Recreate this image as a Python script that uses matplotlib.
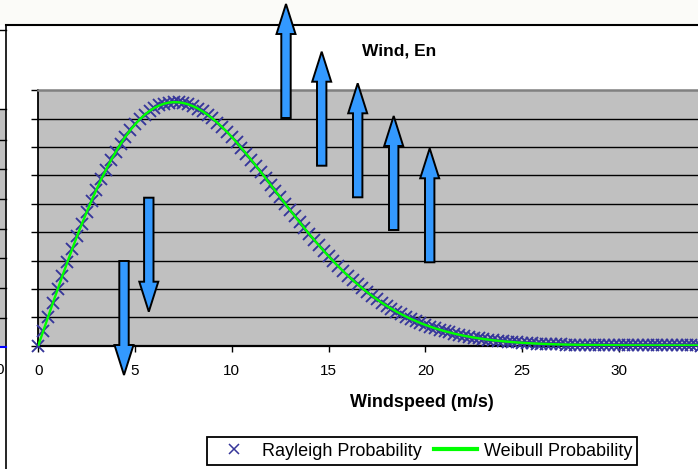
import numpy as np
import matplotlib
matplotlib.use("Agg")
import matplotlib.pyplot as plt
from matplotlib.patches import Polygon, Rectangle
from matplotlib.lines import Line2D

plt.rcParams['font.family'] = ['Liberation Sans', 'DejaVu Sans']

# ---------------- data ----------------
wind_step = 0.25
wind_max = 35.0
rayleigh_prob = [
    0.00000, 0.00501, 0.01000, 0.01496, 0.01986, 0.02468, 0.02941, 0.03404, 0.03854, 0.04289,
    0.04710, 0.05113, 0.05497, 0.05863, 0.06208, 0.06532, 0.06833, 0.07112, 0.07367, 0.07598,
    0.07804, 0.07987, 0.08145, 0.08278, 0.08387, 0.08472, 0.08534, 0.08573, 0.08589, 0.08584,
    0.08557, 0.08511, 0.08445, 0.08361, 0.08260, 0.08143, 0.08012, 0.07866, 0.07708, 0.07538,
    0.07358, 0.07168, 0.06971, 0.06766, 0.06557, 0.06342, 0.06123, 0.05902, 0.05679, 0.05456,
    0.05232, 0.05009, 0.04788, 0.04569, 0.04353, 0.04141, 0.03934, 0.03730, 0.03532, 0.03338,
    0.03151, 0.02970, 0.02794, 0.02625, 0.02463, 0.02307, 0.02158, 0.02016, 0.01880, 0.01751,
    0.01628, 0.01511, 0.01401, 0.01297, 0.01199, 0.01107, 0.01021, 0.00939, 0.00864, 0.00793,
    0.00726, 0.00665, 0.00608, 0.00555, 0.00506, 0.00460, 0.00418, 0.00380, 0.00344, 0.00312,
    0.00282, 0.00254, 0.00229, 0.00207, 0.00185, 0.00167, 0.00149, 0.00134, 0.00119, 0.00107,
    0.00095, 0.00085, 0.00075, 0.00067, 0.00059, 0.00053, 0.00047, 0.00041, 0.00036, 0.00032,
    0.00028, 0.00025, 0.00022, 0.00019, 0.00017, 0.00015, 0.00013, 0.00011, 0.00010, 0.00008,
    0.00007, 0.00006, 0.00005, 0.00005, 0.00004, 0.00003, 0.00003, 0.00003, 0.00002, 0.00002,
    0.00002, 0.00001, 0.00001, 0.00001, 0.00001, 0.00001, 0.00001, 0.00000, 0.00000, 0.00000,
    0.00000,
]
# the Weibull curve coincides with the Rayleigh markers in the picture
weibull_prob = list(rayleigh_prob)
windspeed = np.arange(0, wind_max + wind_step / 2, wind_step)
assert len(windspeed) == len(rayleigh_prob)

x_ticks = [0, 5, 10, 15, 20, 25, 30]
y_ticks = [0.00, 0.01, 0.02, 0.03, 0.04, 0.05, 0.06, 0.07, 0.08, 0.09]

title_text = "Wind, En"
xlabel_text = "Windspeed (m/s)"
legend_labels = ["Rayleigh Probability", "Weibull Probability"]

# ---------------- figure ----------------
W, H = 698, 469
fig = plt.figure(figsize=(W / 100, H / 100), dpi=100)
fig.patch.set_facecolor('white')

def fx(x):
    return x / W

def fy(y):
    return (H - y) / H

# background pieces of the screenshot
fig.add_artist(Rectangle((0, fy(25)), 1, 25 / H, transform=fig.transFigure,
                         facecolor='#FBFBF8', edgecolor='none', zorder=0))
fig.add_artist(Line2D([fx(6), 1], [fy(25), fy(25)], transform=fig.transFigure,
                      color='black', lw=1.5, zorder=1))
fig.add_artist(Line2D([fx(6), fx(6)], [fy(25), 0], transform=fig.transFigure,
                      color='black', lw=1.2, zorder=1))
fig.add_artist(Line2D([0, fx(6)], [fy(30), fy(30)], transform=fig.transFigure,
                      color='black', lw=1.0, zorder=1))
fig.add_artist(Rectangle((0, fy(347)), fx(5.5), (347 - 109) / H, transform=fig.transFigure,
                         facecolor='#C0C0C0', edgecolor='none', zorder=0))
for yy in [109, 140, 169, 199, 229, 258, 288, 318]:
    fig.add_artist(Line2D([0, fx(5.5)], [fy(yy), fy(yy)], transform=fig.transFigure,
                          color='black', lw=1.0, zorder=1))
fig.add_artist(Line2D([0, fx(5.5)], [fy(347), fy(347)], transform=fig.transFigure,
                      color='#0000FF', lw=1.5, zorder=1))
fig.text(fx(0), fy(370), "0", fontsize=11, ha='center', va='center')

# ---------------- axes ----------------
px_per_unit = 19.35
ax_left, ax_bottom, ax_top = 38.3, 345.5, 90.5
ax = fig.add_axes([fx(ax_left), fy(ax_bottom), wind_max * px_per_unit / W,
                   (ax_bottom - ax_top) / H])
ax.set_facecolor('#C0C0C0')
ax.set_xlim(0, wind_max)
ax.set_ylim(y_ticks[0], y_ticks[-1])

for yv in y_ticks[1:-1]:
    ax.axhline(yv, color='black', lw=1.0, zorder=1)

ax.plot(windspeed, rayleigh_prob, linestyle='none', marker='x', markersize=8.5,
        markeredgewidth=1.35, color='#36369A', zorder=3, clip_on=False,
        label=legend_labels[0])
ax.plot(windspeed, weibull_prob, color='#00FF00', lw=1.7, zorder=4,
        label=legend_labels[1])

ax.set_xticks(x_ticks)
ax.set_xticklabels([str(t) for t in x_ticks])
ax.set_yticks(y_ticks)
ax.set_yticklabels([])
ax.tick_params(axis='x', direction='out', length=4, width=1.0, pad=9, labelsize=11,
               color='black')
ax.tick_params(axis='y', direction='out', length=5, width=1.0, color='black')
ax.spines['left'].set_linewidth(1.3)
ax.spines['bottom'].set_linewidth(1.6)
ax.spines['top'].set_color('#808080')
ax.spines['top'].set_linewidth(1.8)
ax.spines['right'].set_visible(False)

# texts
fig.text(fx(362), fy(51), title_text, fontsize=12.5, fontweight='bold',
         ha='left', va='center')
fig.text(fx(422), fy(402), xlabel_text, fontsize=13, fontweight='bold',
         ha='center', va='center')

# legend
handles, labels = ax.get_legend_handles_labels()
leg = fig.legend(handles, labels, loc='center', bbox_to_anchor=(fx(422), fy(451)),
                 ncol=2, fontsize=13, frameon=True, fancybox=False,
                 edgecolor='black', framealpha=1, handlelength=2.4,
                 handletextpad=0.35, columnspacing=0.7, borderpad=0.3,
                 borderaxespad=0)
leg.get_frame().set_linewidth(1.3)
leg.legend_handles[0].set_markersize(7)
leg.legend_handles[0].set_markeredgewidth(1.1)
leg.legend_handles[1].set_linewidth(3)

# block arrows (screenshot annotations), pixel geometry
shaft_half, head_half, head_len, arrow_len = 4.7, 9.5, 30, 114
up_arrows = [(286, 4), (321.7, 51.7), (357.7, 83.3), (393.7, 116), (429.7, 148.3)]
down_arrows = [(148.8, 311.7), (124, 375)]

def add_arrow(cx, tip_y, direction):
    s = 1 if direction == 'up' else -1
    base = tip_y + s * arrow_len
    hb = tip_y + s * head_len
    pts = [(cx, tip_y), (cx + head_half, hb), (cx + shaft_half, hb),
           (cx + shaft_half, base), (cx - shaft_half, base), (cx - shaft_half, hb),
           (cx - head_half, hb)]
    poly = Polygon([(fx(px), fy(py)) for px, py in pts], closed=True,
                   transform=fig.transFigure, facecolor='#3399FF',
                   edgecolor='black', lw=1.4, zorder=10, joinstyle='miter')
    fig.add_artist(poly)

for cx, ty in up_arrows:
    add_arrow(cx, ty, 'up')
for cx, ty in down_arrows:
    add_arrow(cx, ty, 'down')

fig.savefig('out.png', dpi=100)
